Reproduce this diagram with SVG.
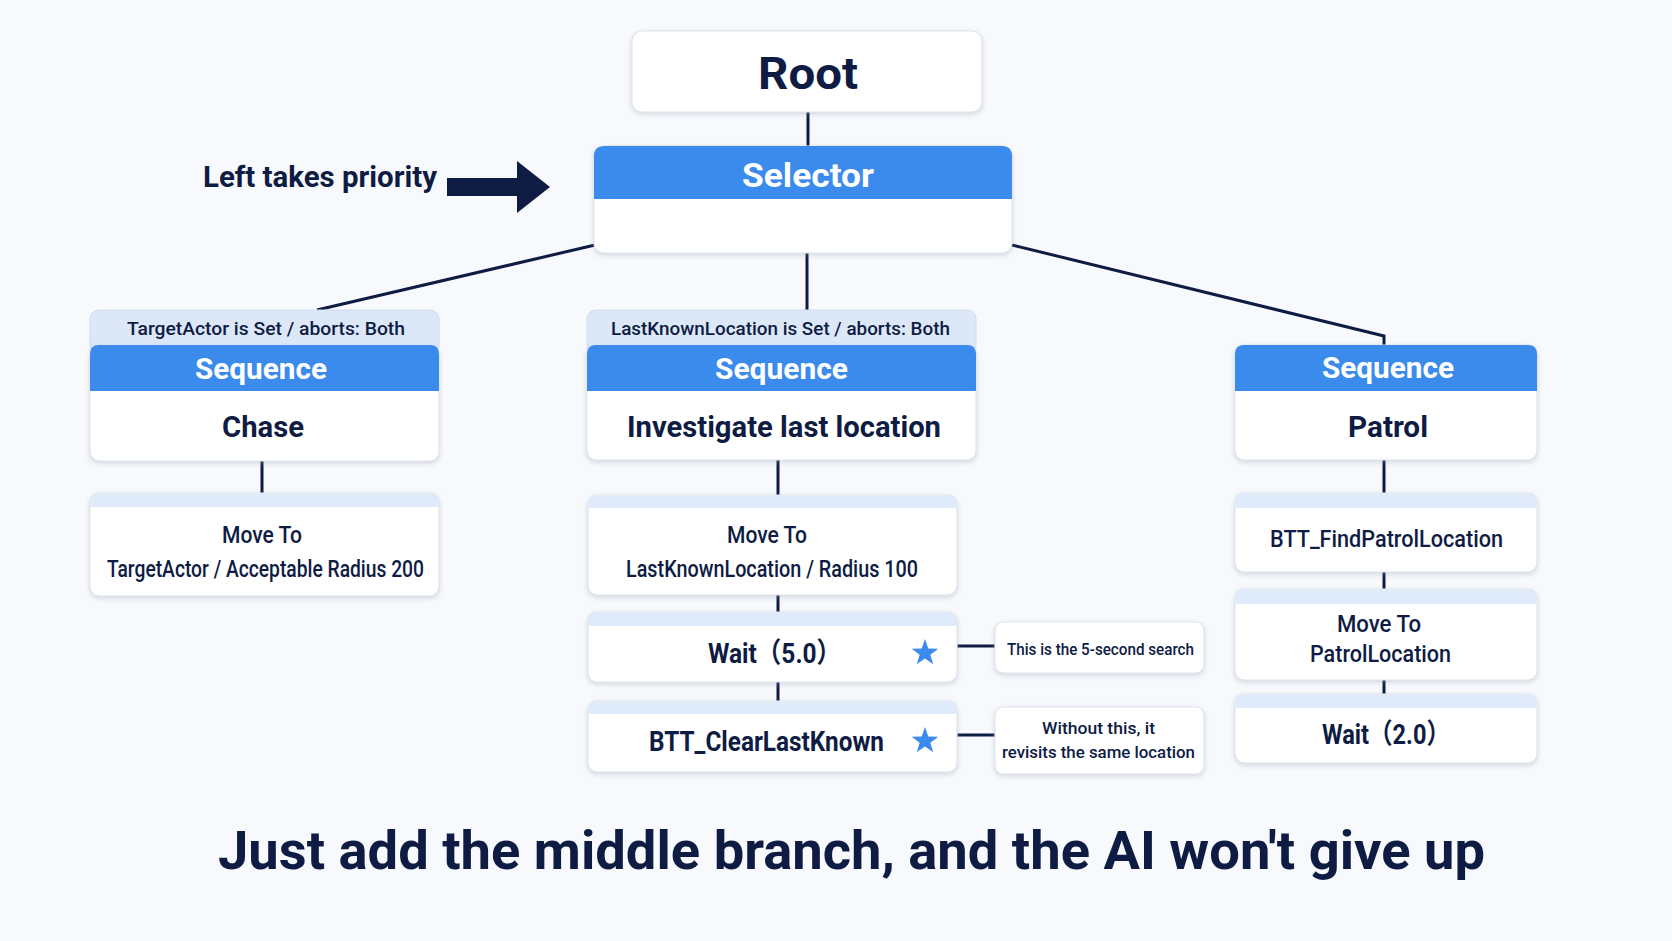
<svg xmlns="http://www.w3.org/2000/svg" width="1672" height="941" viewBox="0 0 1672 941">
<defs>
<filter id="sh" x="-10%" y="-20%" width="120%" height="150%">
<feDropShadow dx="0" dy="2" stdDeviation="2.5" flood-color="#8a97ad" flood-opacity="0.35"/>
</filter>
<path id="star" d="M0,-14 L3.29,-4.53 L13.31,-4.33 L5.33,1.73 L8.23,11.33 L0,5.6 L-8.23,11.33 L-5.33,1.73 L-13.31,-4.33 L-3.29,-4.53 Z" fill="#3b8bec"/>
</defs>
<style>
.box{fill:#ffffff;stroke:#dfe4ec;stroke-width:1.2;filter:url(#sh)}
.hdr{fill:#3b8bec}
.band{fill:#dfeafa}
.dec{fill:#dce8f8;stroke:#cfdcee;stroke-width:1}
.t{font-family:Roboto,"Liberation Sans","Noto Sans CJK JP",sans-serif;fill:#0e1c44}
.b{font-weight:700}
.m{font-weight:500}
.w{fill:#ffffff}
.con{stroke:#0e1c44;stroke-width:3;fill:none}
</style>
<rect x="0" y="0" width="1672" height="941" fill="#f8f9fc"/>

<g id="connectors">
<line class="con" x1="808" y1="112" x2="808" y2="146"/>
<line class="con" x1="595" y1="245" x2="317" y2="310"/>
<line class="con" x1="807" y1="253" x2="807" y2="310"/>
<polyline class="con" points="1012,245 1384,336 1384,345"/>
<line class="con" x1="262" y1="461" x2="262" y2="493"/>
<line class="con" x1="778" y1="460" x2="778" y2="495"/>
<line class="con" x1="778" y1="595" x2="778" y2="612"/>
<line class="con" x1="778" y1="682" x2="778" y2="701"/>
<line class="con" x1="1384" y1="460" x2="1384" y2="493"/>
<line class="con" x1="1384" y1="572" x2="1384" y2="589"/>
<line class="con" x1="1384" y1="680" x2="1384" y2="694"/>
<line class="con" x1="957" y1="646" x2="995" y2="646"/>
<line class="con" x1="957" y1="735" x2="995" y2="735"/>
</g>

<g id="root">
<rect class="box" x="632" y="31" width="350" height="81" rx="10"/>
<text class="t b" x="758" y="89" font-size="45" textLength="100" lengthAdjust="spacingAndGlyphs">Root</text>
</g>

<g id="selector">
<rect class="box" x="594" y="146" width="418" height="107" rx="10"/>
<path class="hdr" d="M594,199 L594,156 Q594,146 604,146 L1002,146 Q1012,146 1012,156 L1012,199 Z"/>
<text class="t b w" x="742" y="187" font-size="33" textLength="132" lengthAdjust="spacingAndGlyphs">Selector</text>
</g>

<g id="priority-note">
<text class="t b" x="203" y="187" font-size="30" textLength="234" lengthAdjust="spacingAndGlyphs">Left takes priority</text>
<polygon points="447,178 517,178 517,161 550,187 517,213 517,196 447,196" fill="#0e1c44"/>
</g>

<g id="chase">
<rect class="dec" x="90" y="310" width="349" height="44" rx="9"/>
<text class="t m" x="127" y="335" font-size="19" textLength="278" lengthAdjust="spacingAndGlyphs">TargetActor is Set / aborts: Both</text>
<rect class="box" x="90" y="345" width="349" height="116" rx="9"/>
<path class="hdr" d="M90,391 L90,354 Q90,345 99,345 L430,345 Q439,345 439,354 L439,391 Z"/>
<text class="t b w" x="195" y="379" font-size="29" textLength="132" lengthAdjust="spacingAndGlyphs">Sequence</text>
<text class="t b" x="222" y="437" font-size="30" textLength="82" lengthAdjust="spacingAndGlyphs">Chase</text>
</g>

<g id="chase-moveto">
<rect class="box" x="90" y="493" width="349" height="103" rx="9"/>
<path class="band" d="M90.6,507 L90.6,502 Q90.6,493.6 99,493.6 L430,493.6 Q438.4,493.6 438.4,502 L438.4,507 Z"/>
<text class="t m" x="222" y="543" font-size="23" textLength="80" lengthAdjust="spacingAndGlyphs">Move To</text>
<text class="t m" x="107" y="577" font-size="23" textLength="317" lengthAdjust="spacingAndGlyphs">TargetActor / Acceptable Radius 200</text>
</g>

<g id="investigate">
<rect class="dec" x="587" y="310" width="389" height="44" rx="9"/>
<text class="t m" x="611" y="335" font-size="19" textLength="339" lengthAdjust="spacingAndGlyphs">LastKnownLocation is Set / aborts: Both</text>
<rect class="box" x="587" y="345" width="389" height="115" rx="9"/>
<path class="hdr" d="M587,391 L587,354 Q587,345 596,345 L967,345 Q976,345 976,354 L976,391 Z"/>
<text class="t b w" x="715" y="379" font-size="29" textLength="133" lengthAdjust="spacingAndGlyphs">Sequence</text>
<text class="t b" x="627" y="437" font-size="30" textLength="314" lengthAdjust="spacingAndGlyphs">Investigate last location</text>
</g>

<g id="inv-moveto">
<rect class="box" x="588" y="495" width="369" height="100" rx="9"/>
<path class="band" d="M588.6,508 L588.6,504 Q588.6,495.6 597,495.6 L948,495.6 Q956.4,495.6 956.4,504 L956.4,508 Z"/>
<text class="t m" x="727" y="543" font-size="23" textLength="80" lengthAdjust="spacingAndGlyphs">Move To</text>
<text class="t m" x="626" y="577" font-size="23" textLength="292" lengthAdjust="spacingAndGlyphs">LastKnownLocation / Radius 100</text>
</g>

<g id="inv-wait">
<rect class="box" x="588" y="612" width="369" height="70" rx="9"/>
<path class="band" d="M588.6,626 L588.6,621 Q588.6,612.6 597,612.6 L948,612.6 Q956.4,612.6 956.4,621 L956.4,626 Z"/>
<text class="t b" x="708" y="663" font-size="28" textLength="133" lengthAdjust="spacingAndGlyphs">Wait（5.0）</text>
<use href="#star" x="925" y="653"/>
</g>

<g id="inv-clear">
<rect class="box" x="588" y="701" width="369" height="71" rx="9"/>
<path class="band" d="M588.6,714 L588.6,710 Q588.6,701.6 597,701.6 L948,701.6 Q956.4,701.6 956.4,710 L956.4,714 Z"/>
<text class="t b" x="649" y="751" font-size="28" textLength="235" lengthAdjust="spacingAndGlyphs">BTT_ClearLastKnown</text>
<use href="#star" x="925" y="741"/>
</g>

<g id="note-wait">
<rect class="box" x="995" y="622" width="209" height="51" rx="8"/>
<text class="t m" x="1007" y="655" font-size="17" textLength="187" lengthAdjust="spacingAndGlyphs">This is the 5-second search</text>
</g>

<g id="note-clear">
<rect class="box" x="995" y="707" width="209" height="67" rx="8"/>
<text class="t m" x="1042" y="734" font-size="17" textLength="113" lengthAdjust="spacingAndGlyphs">Without this, it</text>
<text class="t m" x="1002" y="758" font-size="17" textLength="193" lengthAdjust="spacingAndGlyphs">revisits the same location</text>
</g>

<g id="patrol">
<rect class="box" x="1235" y="345" width="302" height="115" rx="9"/>
<path class="hdr" d="M1235,391 L1235,354 Q1235,345 1244,345 L1528,345 Q1537,345 1537,354 L1537,391 Z"/>
<text class="t b w" x="1322" y="378" font-size="29" textLength="132" lengthAdjust="spacingAndGlyphs">Sequence</text>
<text class="t b" x="1348" y="437" font-size="30" textLength="80" lengthAdjust="spacingAndGlyphs">Patrol</text>
</g>

<g id="patrol-find">
<rect class="box" x="1235" y="493" width="302" height="79" rx="9"/>
<path class="band" d="M1235.6,508 L1235.6,502 Q1235.6,493.6 1244,493.6 L1528,493.6 Q1536.4,493.6 1536.4,502 L1536.4,508 Z"/>
<text class="t m" x="1270" y="547" font-size="24" textLength="233" lengthAdjust="spacingAndGlyphs">BTT_FindPatrolLocation</text>
</g>

<g id="patrol-moveto">
<rect class="box" x="1235" y="589" width="302" height="91" rx="9"/>
<path class="band" d="M1235.6,604 L1235.6,598 Q1235.6,589.6 1244,589.6 L1528,589.6 Q1536.4,589.6 1536.4,598 L1536.4,604 Z"/>
<text class="t m" x="1337" y="632" font-size="24" textLength="84" lengthAdjust="spacingAndGlyphs">Move To</text>
<text class="t m" x="1310" y="662" font-size="24" textLength="141" lengthAdjust="spacingAndGlyphs">PatrolLocation</text>
</g>

<g id="patrol-wait">
<rect class="box" x="1235" y="694" width="302" height="69" rx="9"/>
<path class="band" d="M1235.6,708 L1235.6,703 Q1235.6,694.6 1244,694.6 L1528,694.6 Q1536.4,694.6 1536.4,703 L1536.4,708 Z"/>
<text class="t b" x="1322" y="744" font-size="28" textLength="128" lengthAdjust="spacingAndGlyphs">Wait（2.0）</text>
</g>

<g id="title">
<text class="t b" x="218" y="869" font-size="54" textLength="1267" lengthAdjust="spacingAndGlyphs">Just add the middle branch, and the AI won't give up</text>
</g>
</svg>
